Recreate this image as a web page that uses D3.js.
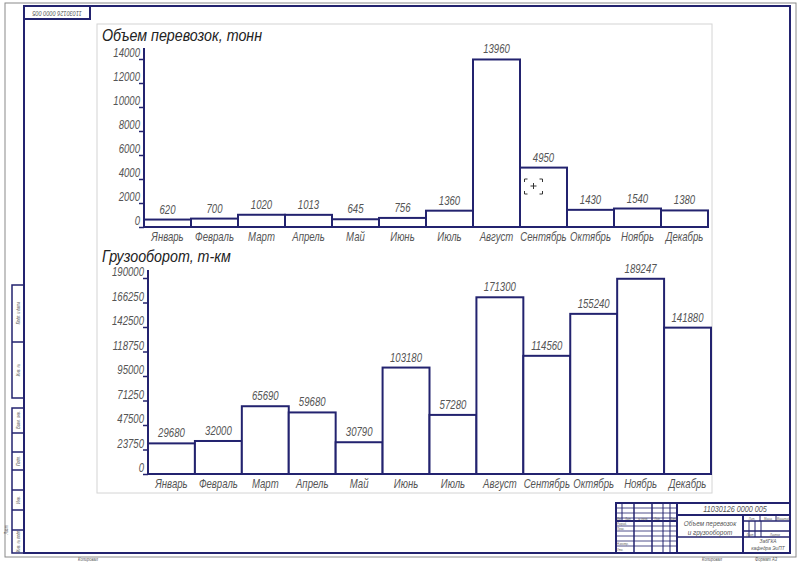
<!DOCTYPE html>
<html><head><meta charset="utf-8">
<script src="https://cdn.jsdelivr.net/npm/d3@7"></script>
<style>
html,body{margin:0;padding:0;background:#fff;}
svg text{font-family:"Liberation Sans","DejaVu Sans",sans-serif;font-style:italic;}
</style></head>
<body>
<svg id="c" width="800" height="563"></svg>
<script>
// ---- data ----
const months = ["Январь","Февраль","Март","Апрель","Май","Июнь","Июль","Август","Сентябрь","Октябрь","Ноябрь","Декабрь"];
const volume = [620,700,1020,1013,645,756,1360,13960,4950,1430,1540,1380];
const turnover = [29680,32000,65690,59680,30790,103180,57280,171300,114560,155240,189247,141880];
const volumeTicks = [0,2000,4000,6000,8000,10000,12000,14000];
const turnoverTicks = [0,23750,47500,71250,95000,118750,142500,166250,190000];
const volumeTitle = "Объем перевозок, тонн";
const turnoverTitle = "Грузооборот, т-км";
const drawingCode = "11030126 0000 005";
const sheetTitle = ["Объем перевозок","и грузооборот"];

const NAVY = "#23236f";
const TXT = "#555";
const SX = 0.8; // condensed drafting lettering
const svg = d3.select("#c");

function ctext(parent, x, y, str, size, opts){
  opts = opts || {};
  const sx = opts.sx || SX;
  return parent.append("text")
    .attr("transform", `translate(${x},${y})${opts.rot?` rotate(${opts.rot})`:""} scale(${sx},1)`)
    .attr("text-anchor", opts.anchor || "middle")
    .attr("dominant-baseline", opts.baseline || "auto")
    .attr("font-size", size).attr("fill", opts.fill || TXT).text(str);
}

// ---- drawing sheet frame ----
svg.append("rect").attr("x",5).attr("y",3).attr("width",791).attr("height",554)
  .attr("fill","none").attr("stroke","#8a8a8a").attr("stroke-width",1);
svg.append("rect").attr("x",24).attr("y",6).attr("width",766).attr("height",547)
  .attr("fill","none").attr("stroke",NAVY).attr("stroke-width",2);
// top-left stamp
svg.append("rect").attr("x",24).attr("y",6).attr("width",66).attr("height",13)
  .attr("fill","none").attr("stroke",NAVY).attr("stroke-width",2);
ctext(svg,57,12.5,drawingCode,7,{rot:180,baseline:"middle"});
// left strip
const strip = svg.append("g").attr("fill","none").attr("stroke",NAVY).attr("stroke-width",1.5);
strip.append("rect").attr("x",12).attr("y",285).attr("width",12).attr("height",113);
strip.append("line").attr("x1",12).attr("x2",24).attr("y1",342).attr("y2",342);
strip.append("rect").attr("x",12).attr("y",408).attr("width",12).attr("height",145);
[433,452,470,490,510,530].forEach(y=>strip.append("line").attr("x1",12).attr("x2",24).attr("y1",y).attr("y2",y));
[["Подп. и дата",313],["Инв. №",370],["Взам. инв.",420],["Подп.",461],["Инв.",500],["Инв. № подл.",541]].forEach(([t,y])=>{
  ctext(svg,19,y,t,4.5,{rot:-90,baseline:"middle"});
});
ctext(svg,8,530,"Лист",4.5,{rot:-90});
ctext(svg,88,561,"Копировал",5);
ctext(svg,712,561,"Копировал",5);
ctext(svg,766,561,"Формат А3",5);

// ---- title block ----
const tb = svg.append("g").attr("stroke",NAVY).attr("fill","none");
tb.append("rect").attr("x",616).attr("y",503).attr("width",174).attr("height",50).attr("stroke-width",2);
const L=(x1,y1,x2,y2,w)=>tb.append("line").attr("x1",x1).attr("y1",y1).attr("x2",x2).attr("y2",y2).attr("stroke-width",w||1);
L(677,503,677,553,2);
[622,634,652,663,670].forEach(x=>L(x,503,x,x===622?521:553,x===634||x===652?1.5:1));
[508,513,518,526,531,536,541,546].forEach(y=>L(616,y,677,y,0.8));
L(616,521,677,521,2);
L(677,515,790,515,2);
L(743,515,743,553,2);
L(743,521,790,521,1.5);
L(743,531,790,531,1.5);
L(743,537,790,537,1.5);
[749,755,761].forEach(x=>L(x,521,x,537,1));
[760,776].forEach(x=>L(x,515,x,521,1));
L(677,537,743,537,1.5);
ctext(svg,735,512,drawingCode,9);
ctext(svg,710,526,sheetTitle[0],8);
ctext(svg,710,535,sheetTitle[1],8);
ctext(svg,768,543,"ЗабГКА",6);
ctext(svg,768,549.5,"кафедра ЭиПТ",6);
[["Изм",619,520.3],["Лист",628,520.3],["№ докум.",643,520.3],["Подп.",657.5,520.3],["Дата",673.5,520.3]].forEach(([t,x,y])=>{
  ctext(svg,x,y,t,2.8);
});
[["Разраб.",617,525],["Пров.",617,530],["Н.контр.",617,545],["Утв.",617,551]].forEach(([t,x,y])=>{
  ctext(svg,x,y,t,3.4,{anchor:"start"});
});
[["Лит.",752,519.5],["Масса",768,519.5],["Масштаб",783,519.5],["Лист",750,535.5],["Листов",775,535.5]].forEach(([t,x,y])=>{
  ctext(svg,x,y,t,3.4);
});

// ---- chart panel ----
svg.append("rect").attr("x",97).attr("y",24).attr("width",615).attr("height",469)
  .attr("fill","#fff").attr("stroke","#d4d4d4").attr("stroke-width",1);

function barChart(cfg){
  const g = svg.append("g");
  const x = d3.scaleBand().domain(months).range([cfg.x0,cfg.x1]).padding(0);
  const y = d3.scaleLinear().domain([0,cfg.max]).range([cfg.base,cfg.yTop]);
  // title
  ctext(g,102,cfg.titleY,cfg.title,17,{anchor:"start",fill:"#222",sx:0.84});
  // bars
  g.selectAll("rect.bar").data(cfg.values).join("rect").attr("class","bar")
    .attr("x",(d,i)=>x(months[i])).attr("y",d=>y(d))
    .attr("width",x.bandwidth()).attr("height",d=>cfg.base-y(d))
    .attr("fill","#fff").attr("stroke",NAVY).attr("stroke-width",2);
  // value labels
  cfg.values.forEach((d,i)=>ctext(g,x(months[i])+x.bandwidth()/2,y(d)-6,String(d),12));
  // y axis
  const ax = d3.axisLeft(y).tickValues(cfg.ticks).tickSize(5).tickPadding(2).tickFormat(d=>String(d));
  const ag = g.append("g").attr("transform",`translate(${cfg.x0},0)`).call(ax);
  ag.select(".domain").remove();
  ag.selectAll(".tick line").attr("stroke",NAVY).attr("stroke-width",1.5);
  ag.selectAll(".tick text").attr("font-size",12).attr("fill",TXT)
    .attr("x",-4/SX).attr("dy","-0.2em").attr("transform",`scale(${SX},1)`);
  g.append("line").attr("x1",cfg.x0).attr("x2",cfg.x0).attr("y1",cfg.axisTop).attr("y2",cfg.base+1)
    .attr("stroke",NAVY).attr("stroke-width",2);
  g.append("line").attr("x1",cfg.x0).attr("x2",cfg.x1).attr("y1",cfg.base).attr("y2",cfg.base)
    .attr("stroke",NAVY).attr("stroke-width",2);
  // month labels
  months.forEach(m=>ctext(g,x(m)+x.bandwidth()/2,cfg.base+14,m,12));
  return {x,y};
}

const upper = barChart({title:volumeTitle,titleY:41,values:volume,ticks:volumeTicks,max:14000,
  x0:144,x1:708,base:227,yTop:59,axisTop:48});
barChart({title:turnoverTitle,titleY:262,values:turnover,ticks:turnoverTicks,max:190000,
  x0:148,x1:711,base:474,yTop:278,axisTop:270});

// cursor marker inside the September bar
const cx = upper.x("Сентябрь")+upper.x.bandwidth()/2 - 10, cy = 186;
const cur = svg.append("g").attr("stroke","#333").attr("stroke-width",1).attr("fill","none");
[[-9,-7,1,1],[9,-7,-1,1],[-9,8,1,-1],[9,8,-1,-1]].forEach(([dx,dy,sx,sy])=>{
  cur.append("path").attr("d",`M${cx+dx},${cy+dy+3*sy}V${cy+dy}H${cx+dx+3*sx}`);
});
cur.append("path").attr("d",`M${cx-3},${cy}H${cx+3}M${cx},${cy-3}V${cy+3}`);
</script>
</body></html>
